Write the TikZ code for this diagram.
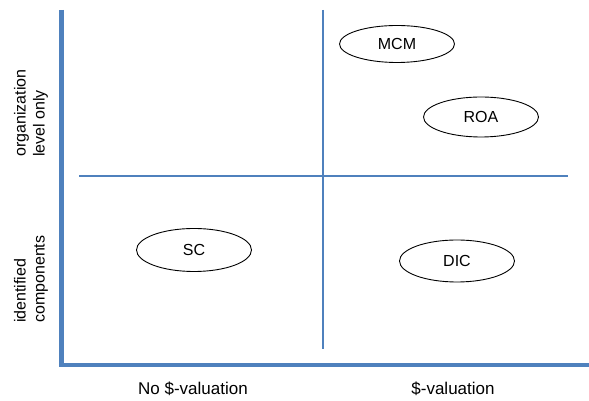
\documentclass[tikz,border=0pt]{standalone}
\usepackage{fontspec}
\setmainfont{Liberation Sans}
\usetikzlibrary{shapes.geometric}
\definecolor{axisblue}{HTML}{4F81BD}
\tikzset{
  oval/.style={draw=black, line width=0.9pt, ellipse, inner sep=0pt, minimum width=115pt, minimum height=40pt, font=\fontsize{16}{18}\selectfont},
  axislabel/.style={font=\fontsize{17}{19}\selectfont, inner sep=0pt},
  sidelabel/.style={font=\fontsize{16}{19}\selectfont, rotate=90, align=left, anchor=west, inner sep=0pt},
  thickaxis/.style={draw=axisblue, line width=4.5pt},
  thinaxis/.style={draw=axisblue, line width=1.4pt}
}
\begin{document}
\begin{tikzpicture}[x=1pt,y=1pt]
\useasboundingbox (0,0) rectangle (589,401);
% axes
\coordinate (ytop) at (61.5,391);
\coordinate (origin) at (61.5,36);
\coordinate (xend) at (589,36);
\draw[thickaxis] (ytop) -- (origin) -- (xend);
% quadrant lines
\coordinate (hl) at (79,225);
\coordinate (hr) at (568,225);
\coordinate (vt) at (323,391);
\coordinate (vb) at (323,52);
\draw[thinaxis] (hl) -- (hr);
\draw[thinaxis] (vt) -- (vb);
% ellipses
\node[oval, minimum height=37pt] (mcm) at (397,357) {MCM};
\node[oval] (roa) at (481,284) {ROA};
\node[oval, minimum height=43pt] (sc) at (194,151) {SC};
\node[oval, minimum height=42pt] (dic) at (457,140) {DIC};
% labels
\node[axislabel] (nov) at (193,12) {No \$-valuation};
\node[axislabel] (val) at (453,12) {\$-valuation};
\node[sidelabel] (org) at (31,244) {organization\\level only};
\node[sidelabel] (idc) at (31,78) {identified\\components};
\end{tikzpicture}
\end{document}
